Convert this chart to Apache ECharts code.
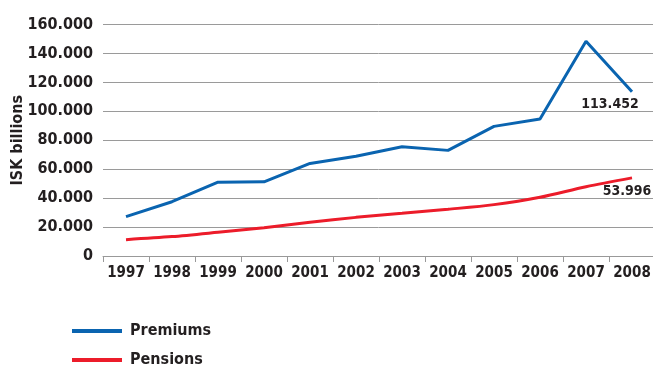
<!DOCTYPE html>
<html><head><meta charset="utf-8">
<script src="https://cdn.jsdelivr.net/npm/echarts@6/dist/echarts.min.js"></script>
<style>html,body{margin:0;padding:0;background:#fff}#c{width:653px;height:367px}</style>
</head><body><div id="c"></div>
<script>
var years = ['1997','1998','1999','2000','2001','2002','2003','2004','2005','2006','2007','2008'];
var premiums = [27200, 37500, 51000, 51300, 64000, 69000, 75500, 73000, 89600, 94700, 148500, 113452];
var pensions = [11300, 13400, 16400, 19600, 23300, 26700, 29500, 32300, 35500, 40600, 47900, 53996];
var yTicks = [0, 20000, 40000, 60000, 80000, 100000, 120000, 140000, 160000];

var FONT = "'Liberation Sans Narrow', 'DejaVu Sans Condensed', 'Liberation Sans', sans-serif";
var TXT = '#231f20';
function fmt(v){ if (v === 0) return '0'; var s = Math.round(v).toString(); return s.replace(/\B(?=(\d{3})+(?!\d))/g, '.'); }
function withLast(arr, label){
  return arr.map(function(v, i){
    if (i === arr.length - 1) return {value: v, label: label};
    return v;
  });
}
function legendFor(name, top){
  return {
    orient: 'horizontal', left: 67, top: top, itemWidth: 50, itemHeight: 4,
    icon: 'rect',
    textStyle: {fontFamily: FONT, fontSize: 16, fontWeight: 'bold', color: TXT, padding: [0,0,0,3]},
    data: [name]
  };
}
var chart = echarts.init(document.getElementById('c'));
chart.setOption({
  animation: false,
  textStyle: {fontFamily: FONT},
  grid: {left: 103, top: 24.5, right: -2, height: 231.5, containLabel: false, outerBoundsMode: 'none'},
  legend: [legendFor('Premiums', 318), legendFor('Pensions', 347)],
  xAxis: {
    type: 'category', data: years, boundaryGap: true,
    axisLine: {lineStyle: {color: '#999', width: 1}},
    axisTick: {show: true, length: 6, lineStyle: {color: '#999'}},
    axisLabel: {interval: 0, fontFamily: FONT, fontSize: 15, fontWeight: 'bold', color: TXT, margin: 10}
  },
  yAxis: {
    type: 'value', min: yTicks[0], max: yTicks[yTicks.length-1], interval: 20000,
    name: 'ISK billions', nameLocation: 'middle', nameRotate: 90, nameGap: 77, nameMoveOverlap: false,
    nameTextStyle: {fontFamily: FONT, fontSize: 16, fontWeight: 'bold', color: TXT},
    axisLine: {show: false}, axisTick: {show: false},
    axisLabel: {fontFamily: FONT, fontSize: 16, fontWeight: 'bold', color: TXT, margin: 10, formatter: fmt},
    splitLine: {lineStyle: {color: '#9a9a9a', width: 1}}
  },
  series: [
    {
      name: 'Premiums', type: 'line', data: withLast(premiums, {
        show: true, position: 'bottom', distance: 5, offset: [-22, 0],
        formatter: function(p){ return fmt(p.value); },
        fontFamily: FONT, fontSize: 14, fontWeight: 'bold', color: TXT
      }),
      symbol: 'circle', symbolSize: 0.1, showSymbol: true,
      lineStyle: {color: '#0a64b0', width: 3}, itemStyle: {color: '#0a64b0'}
    },
    {
      name: 'Pensions', type: 'line', smooth: 0.3, data: withLast(pensions, {
        show: true, position: 'bottom', distance: 6, offset: [-5, 0],
        formatter: function(p){ return fmt(p.value); },
        fontFamily: FONT, fontSize: 14, fontWeight: 'bold', color: TXT
      }),
      symbol: 'circle', symbolSize: 0.1, showSymbol: true,
      lineStyle: {color: '#ec1c2a', width: 3}, itemStyle: {color: '#ec1c2a'}
    }
  ]
});
</script></body></html>
